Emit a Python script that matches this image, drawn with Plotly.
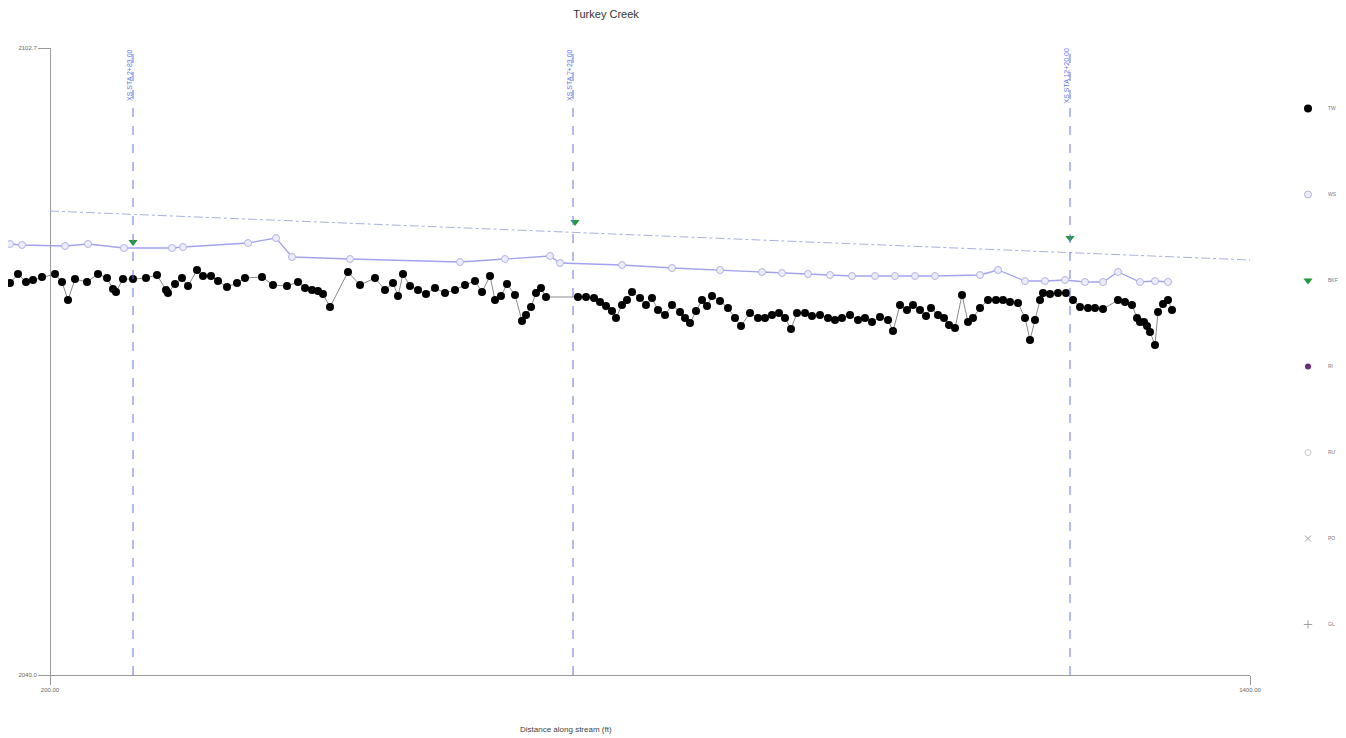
import plotly.graph_objects as go

# ---------------- data ----------------
tw_x = [160, 168, 176, 183, 192, 205, 212, 218, 225, 237, 248, 257, 263, 266, 273, 283, 296, 307, 316, 318,
        325, 332, 338, 347, 353, 361, 368, 377, 387, 395, 412, 423, 437, 448, 455, 462, 468, 473, 480, 498,
        510, 525, 535, 543, 548, 553, 560, 568, 576, 585, 595, 605, 615, 625, 632, 640, 645, 651, 657, 665,
        672, 676, 681, 686, 691, 696, 728, 736, 744, 750, 756, 762, 766, 772, 777, 782, 790, 796, 802, 808,
        815, 822, 830, 835, 840, 846, 852, 857, 862, 870, 878, 885, 891, 900, 908, 915, 922, 929, 935, 941,
        947, 955, 962, 970, 978, 985, 992, 1000, 1008, 1015, 1022, 1030, 1038, 1043, 1050, 1057, 1063, 1070,
        1076, 1081, 1088, 1094, 1099, 1105, 1112, 1118, 1123, 1130, 1138, 1146, 1153, 1160, 1168, 1175, 1180,
        1185, 1190, 1193, 1200, 1208, 1216, 1223, 1230, 1238, 1245, 1253, 1268, 1275, 1282, 1287, 1290, 1294,
        1297, 1300, 1305, 1308, 1313, 1318, 1322]
tw_y = [2079.2, 2080.1, 2079.3, 2079.5, 2079.8, 2080.1, 2079.3, 2077.5, 2079.6, 2079.3, 2080.1, 2079.7, 2078.6,
        2078.3, 2079.6, 2079.6, 2079.7, 2080.0, 2078.5, 2078.2, 2079.1, 2079.7, 2078.9, 2080.5, 2079.9, 2079.9,
        2079.4, 2078.8, 2079.2, 2079.7, 2079.8, 2079.0, 2078.9, 2079.3, 2078.7, 2078.5, 2078.4, 2078.1, 2076.8,
        2080.3, 2079.0, 2079.7, 2078.5, 2079.2, 2077.9, 2080.1, 2078.9, 2078.5, 2078.1, 2078.7, 2078.2, 2078.5,
        2079.0, 2079.4, 2078.3, 2079.9, 2077.5, 2077.9, 2079.1, 2078.0, 2075.4, 2076.0, 2076.8, 2078.2, 2078.7,
        2077.8, 2077.8, 2077.8, 2077.7, 2077.3, 2076.9, 2076.4, 2075.7, 2077.0, 2077.5, 2078.3, 2077.7, 2077.0,
        2077.7, 2076.5, 2076.0, 2077.0, 2076.3, 2075.7, 2075.2, 2076.4, 2077.5, 2076.9, 2077.9, 2077.4, 2076.7,
        2075.7, 2074.9, 2076.2, 2075.7, 2075.7, 2076.0, 2076.2, 2075.7, 2074.6, 2076.2, 2076.2, 2075.9, 2076.0,
        2075.7, 2075.5, 2075.7, 2076.0, 2075.5, 2075.7, 2075.3, 2075.8, 2075.5, 2074.4, 2077.0, 2076.5, 2077.0,
        2076.5, 2075.9, 2076.7, 2076.0, 2075.7, 2075.0, 2074.7, 2078.0, 2075.3, 2075.7, 2076.7, 2077.5, 2077.5,
        2077.5, 2077.3, 2077.2, 2075.7, 2073.5, 2075.5, 2077.5, 2078.2, 2078.1, 2078.2, 2078.2, 2077.5, 2076.8,
        2076.7, 2076.7, 2076.6, 2077.5, 2077.3, 2077.0, 2075.7, 2075.3, 2075.3, 2074.9, 2074.3, 2073.0, 2076.3,
        2077.1, 2077.5, 2076.5]

ws_x = [160, 172, 215, 238, 274, 322, 333, 398, 426, 442, 500, 610, 655, 700, 710, 772, 822, 870, 912, 932,
        958, 980, 1002, 1025, 1045, 1065, 1085, 1130, 1148, 1175, 1195, 1215, 1235, 1253, 1268, 1290, 1305, 1318]
ws_y = [2083.1, 2083.0, 2082.9, 2083.1, 2082.7, 2082.7, 2082.8, 2083.2, 2083.7, 2081.8, 2081.6, 2081.3, 2081.6,
        2081.9, 2081.2, 2081.0, 2080.7, 2080.5, 2080.3, 2080.2, 2080.1, 2080.0, 2079.9, 2079.9, 2079.9, 2079.9,
        2079.9, 2080.0, 2080.5, 2079.4, 2079.4, 2079.5, 2079.3, 2079.3, 2080.3, 2079.3, 2079.4, 2079.3]

bkf_x = [283, 725, 1220]
bkf_y = [2083.3, 2085.3, 2083.7]

bkf_line_x = [200, 1400]
bkf_line_y = [2086.4, 2081.5]

xs_stations = [283, 723, 1220]
xs_labels = ["XS STA 2+83.00", "XS STA 7+23.00", "XS STA 12+20.00"]

x_range = [200, 1400]          # labelled axis range
x_view_start = 158             # data view starts left of the labelled axis (profile begins before it)
y_range = [2040.0, 2102.7]

legend_names = ["TW", "WS", "BKF", "RI", "RU", "PO", "GL"]

TW_MARKER = dict(symbol="circle", size=8, color="#000000")
WS_MARKER = dict(symbol="circle", size=7, color="#ececfa", line=dict(color="#b4b4e4", width=1))
BKF_MARKER = dict(symbol="triangle-down", size=8, color="#1f9a3a")
legend_markers = [
    TW_MARKER,
    WS_MARKER,
    BKF_MARKER,
    dict(symbol="circle", size=6, color="#6a2a7a"),
    dict(symbol="circle-open", size=6, color="#c8c8c8"),
    dict(symbol="x-thin-open", size=6, color="#a0a0a0", line=dict(width=1, color="#a0a0a0")),
    dict(symbol="cross-thin-open", size=6, color="#a0a0a0", line=dict(width=1, color="#a0a0a0")),
]

# page body has an 8px default margin, so layout positions are offset by 8px
OFF = 8
W, H = 1346, 738
PLOT_L, PLOT_R, PLOT_T, PLOT_B = 8, 1250, 48, 675     # screen px of whole plot area
AXIS_L = 50                                          # screen px of the drawn y axis
plot_w = PLOT_R - PLOT_L
axis_frac = (AXIS_L - PLOT_L) / plot_w

# ---------------- figure ----------------
fig = go.Figure()

# bankfull trend line drawn on the labelled distance axis (same ft-per-px scale)
fig.add_trace(go.Scatter(
    x=bkf_line_x, y=bkf_line_y, xaxis="x2", yaxis="y", mode="lines", showlegend=False,
    hoverinfo="skip", line=dict(color="#a9b1dc", width=1, dash="dashdot"), cliponaxis=False))

fig.add_trace(go.Scatter(
    x=tw_x, y=tw_y, mode="lines+markers", name=legend_names[0], showlegend=False,
    line=dict(color="#8a8a8a", width=1), marker=TW_MARKER, cliponaxis=False))

fig.add_trace(go.Scatter(
    x=ws_x, y=ws_y, mode="lines+markers", name=legend_names[1], showlegend=False,
    line=dict(color="#a2a2ef", width=1.3), marker=WS_MARKER, cliponaxis=False))

fig.add_trace(go.Scatter(
    x=bkf_x, y=bkf_y, mode="markers", name=legend_names[2], showlegend=False,
    marker=BKF_MARKER, cliponaxis=False))

# legend entries (markers only)
for i, (nm, mk) in enumerate(zip(legend_names, legend_markers)):
    fig.add_trace(go.Scatter(x=[None], y=[None], mode="markers", name=nm,
                             legendgroup="g%d" % i, marker=mk))

for xs, lab in zip(xs_stations, xs_labels):
    fig.add_shape(type="line", xref="x", yref="paper", x0=xs, x1=xs, y0=0, y1=1,
                  line=dict(color="#6478e4", width=1, dash="dash"))
    fig.add_annotation(x=xs, xref="x", y=1, yref="paper", yanchor="top", xanchor="center",
                       text=lab, textangle=-90, showarrow=False, xshift=-4, yshift=1,
                       font=dict(size=7, color="#6478e4", family="Arial"))

fig.add_annotation(text="Distance along stream (ft)", xref="paper", yref="paper",
                   x=(566 - PLOT_L) / plot_w, y=(PLOT_B - 729) / (PLOT_B - PLOT_T),
                   xanchor="center", yanchor="middle",
                   showarrow=False, font=dict(size=8, color="#444444", family="Arial"))

fig.update_layout(
    width=W, height=H,
    margin=dict(l=PLOT_L - OFF, r=W - PLOT_R + OFF, t=PLOT_T - OFF, b=H - PLOT_B + OFF, autoexpand=False),
    paper_bgcolor="white", plot_bgcolor="rgba(0,0,0,0)",
    title=dict(text="Turkey Creek", xref="container", yref="container", x=(606 - OFF) / W,
               xanchor="center", y=(H - (14 - OFF)) / H, yanchor="middle",
               font=dict(size=11, color="#333333", family="Arial")),
    font=dict(family="Arial", color="#555555"),
    showlegend=True,
    legend=dict(xref="container", yref="container", x=(1288 - OFF) / W, y=1 - 86 / H,
                xanchor="left", yanchor="top", tracegroupgap=67, maxheight=700,
                font=dict(size=5, color="#777777"), bgcolor="rgba(0,0,0,0)", itemwidth=30),
    # data axis (hidden), covering the whole plot area
    xaxis=dict(range=[x_view_start, x_range[1]], visible=False, automargin=False, fixedrange=True),
    # visible labelled distance axis, starting at the y axis
    xaxis2=dict(range=x_range, domain=[axis_frac, 1], anchor="y", tickvals=x_range, tickformat=".2f",
                showgrid=False, zeroline=False, automargin=False,
                showline=True, linecolor="#9a9a9a", linewidth=1, ticks="outside", ticklen=9,
                tickcolor="#9a9a9a", tickfont=dict(size=6, color="#666666")),
    yaxis=dict(range=y_range, tickvals=y_range, tickformat=".1f", showgrid=False, zeroline=False,
               automargin=False, anchor="free", position=axis_frac,
               showline=True, linecolor="#9a9a9a", linewidth=1, ticks="outside", ticklen=12,
               tickcolor="#9a9a9a", tickfont=dict(size=6, color="#666666")),
)

fig.write_html("out.html")
